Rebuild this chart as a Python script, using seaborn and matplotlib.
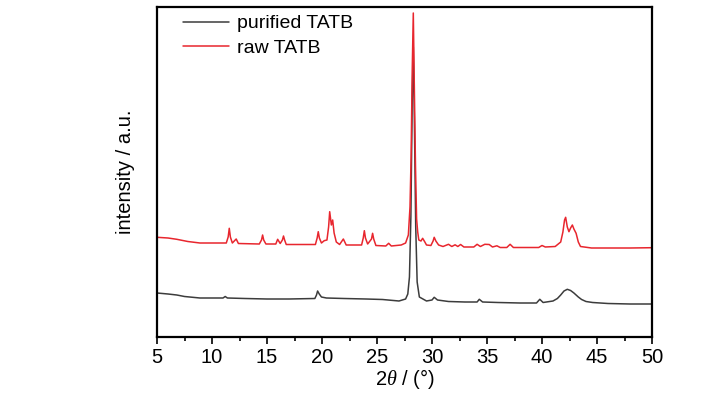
import numpy as np
import pandas as pd
import matplotlib
matplotlib.use("Agg")
import matplotlib.pyplot as plt
import seaborn as sns
from matplotlib.ticker import MultipleLocator


# 1. Data (2theta in degrees, intensity in a.u.)
purified_2theta = [5.0, 6.0, 6.8, 7.5, 8.9, 11.0, 11.2, 11.4, 13.0, 15.0, 17.0,
                   19.35, 19.5, 19.6, 19.75, 19.95, 20.4, 22.0, 24.0, 25.5, 27.0,
                   27.6, 27.8, 27.95, 28.08, 28.2, 28.3, 28.4, 28.52, 28.65, 28.85,
                   29.5, 30.0, 30.2, 30.5, 31.5, 33.0, 34.1, 34.3, 34.6, 36.0,
                   38.0, 39.5, 39.8, 40.1, 41.0, 41.4, 41.7, 42.0, 42.3, 42.6,
                   42.9, 43.3, 43.6, 44.0, 44.6, 46.0, 48.0, 50.0]
purified_int = [44, 43, 42, 40.5, 39, 39, 40.5, 39, 38.5, 38, 38,
                38.5, 42, 46, 43, 40, 39, 38.5, 38, 37.5, 36,
                38, 43, 60, 120, 235, 290, 215, 110, 55, 40,
                36, 37, 39.7, 37, 35.5, 35, 35, 37.7, 35, 34.5,
                34, 34, 37.7, 34.5, 36, 38.5, 42, 46, 47.7, 46.5,
                44, 40, 37.5, 35.5, 34.5, 33.5, 33, 33]

raw_2theta = [5.0, 6.0, 6.8, 7.8, 8.9, 11.3, 11.47, 11.57, 11.67, 11.85, 12.2,
              12.4, 14.3, 14.5, 14.6, 14.7, 14.9, 15.8, 15.97, 16.2, 16.4,
              16.5, 16.6, 16.75, 19.4, 19.56, 19.66, 19.76, 19.95, 20.2, 20.45,
              20.6, 20.7, 20.85, 20.97, 21.1, 21.3, 21.6, 21.94, 22.2, 23.6,
              23.75, 23.85, 23.95, 24.15, 24.5, 24.6, 24.7, 24.9, 25.8, 26.06,
              26.3, 27.2, 27.6, 27.85, 28.0, 28.1, 28.2, 28.3, 28.4, 28.5,
              28.6, 28.7, 28.8, 29.0, 29.15, 29.35, 29.5, 29.9, 30.1, 30.2,
              30.35, 30.6, 31.0, 31.5, 31.8, 32.1, 32.35, 32.6, 32.9, 33.8,
              34.1, 34.4, 34.8, 35.2, 35.5, 35.9, 36.2, 36.8, 37.1, 37.4,
              39.7, 40.0, 40.3, 41.2, 41.7, 41.9, 42.05, 42.15, 42.3, 42.45,
              42.6, 42.76, 42.9, 43.1, 43.3, 43.5, 44.5, 46.0, 48.0, 50.0]
raw_int = [99.7, 99, 97.7, 95.5, 94, 94, 100, 108.7, 100, 94, 98,
           93.5, 93, 97, 102, 97, 93, 93, 97.7, 93.5, 97,
           101, 97, 92.5, 92.5, 99, 105.3, 99, 94, 96.3, 97,
           110, 125.3, 112, 117, 104, 95, 92.5, 98, 92, 92,
           99, 106.3, 99, 93, 98, 103.7, 98, 91.5, 91, 93.7,
           91, 92, 94, 102, 130, 180, 265, 324, 245, 170,
           118, 105, 97, 96, 98.7, 95, 92, 91.5, 96, 99.7,
           96, 92, 90.5, 92.7, 90.5, 92.2, 90.5, 92.5, 90, 90,
           92.7, 90.5, 92.7, 92.5, 90, 91.2, 89.5, 89.5, 92.7, 89.5,
           89.5, 91.5, 90, 90.5, 95, 105, 117, 119.7, 110, 105.3,
           109, 112, 108, 103.7, 95, 90.5, 89, 89, 89, 89.3]

series_names = ["purified TATB", "raw TATB"]
series_colors = ["#3c3c3c", "#e8262e"]

df = pd.concat([
    pd.DataFrame({"two_theta": purified_2theta, "intensity": purified_int,
                  "sample": series_names[0]}),
    pd.DataFrame({"two_theta": raw_2theta, "intensity": raw_int,
                  "sample": series_names[1]}),
])

# 2. Style
sns.set_theme(style="ticks")
plt.rcParams["font.family"] = ["Liberation Sans", "DejaVu Sans"]
plt.rcParams["mathtext.fontset"] = "custom"
plt.rcParams["mathtext.it"] = "Liberation Serif:italic"
plt.rcParams["mathtext.rm"] = "Liberation Sans"
plt.rcParams["text.color"] = "black"
plt.rcParams["axes.labelcolor"] = "black"
plt.rcParams["xtick.color"] = "black"

# 3. Draw
fig = plt.figure(figsize=(7.28, 3.99), dpi=100)
ax = fig.add_axes([157 / 728, 62 / 399, 495 / 728, 330 / 399])

sns.lineplot(data=df, x="two_theta", y="intensity", hue="sample",
             hue_order=series_names, palette=series_colors,
             estimator=None, linewidth=1.1, ax=ax)

ax.set_xlim(5, 50)
ax.set_ylim(0, 330)
ax.xaxis.set_major_locator(MultipleLocator(5))
ax.xaxis.set_minor_locator(MultipleLocator(2.5))
ax.set_yticks([])

ax.tick_params(axis="x", which="major", direction="out", length=5, width=1.2,
               labelsize=14.5, pad=3, colors="black")
ax.tick_params(axis="x", which="minor", direction="out", length=3, width=1.2)

for side in ["left", "right", "top", "bottom"]:
    ax.spines[side].set_visible(True)
    ax.spines[side].set_linewidth(1.6)
    ax.spines[side].set_color("black")

ax.set_xlabel(r"2$\theta$ / (°)", fontsize=14.5, labelpad=0)
ax.set_ylabel("intensity / a.u.", fontsize=14.5, labelpad=16)

ax.legend(loc="upper left", bbox_to_anchor=(0.036, 1.0), frameon=False,
          fontsize=14, handlelength=2.4, handletextpad=0.4, labelspacing=0.35,
          borderaxespad=0.0)

fig.savefig("out.png", dpi=100)
